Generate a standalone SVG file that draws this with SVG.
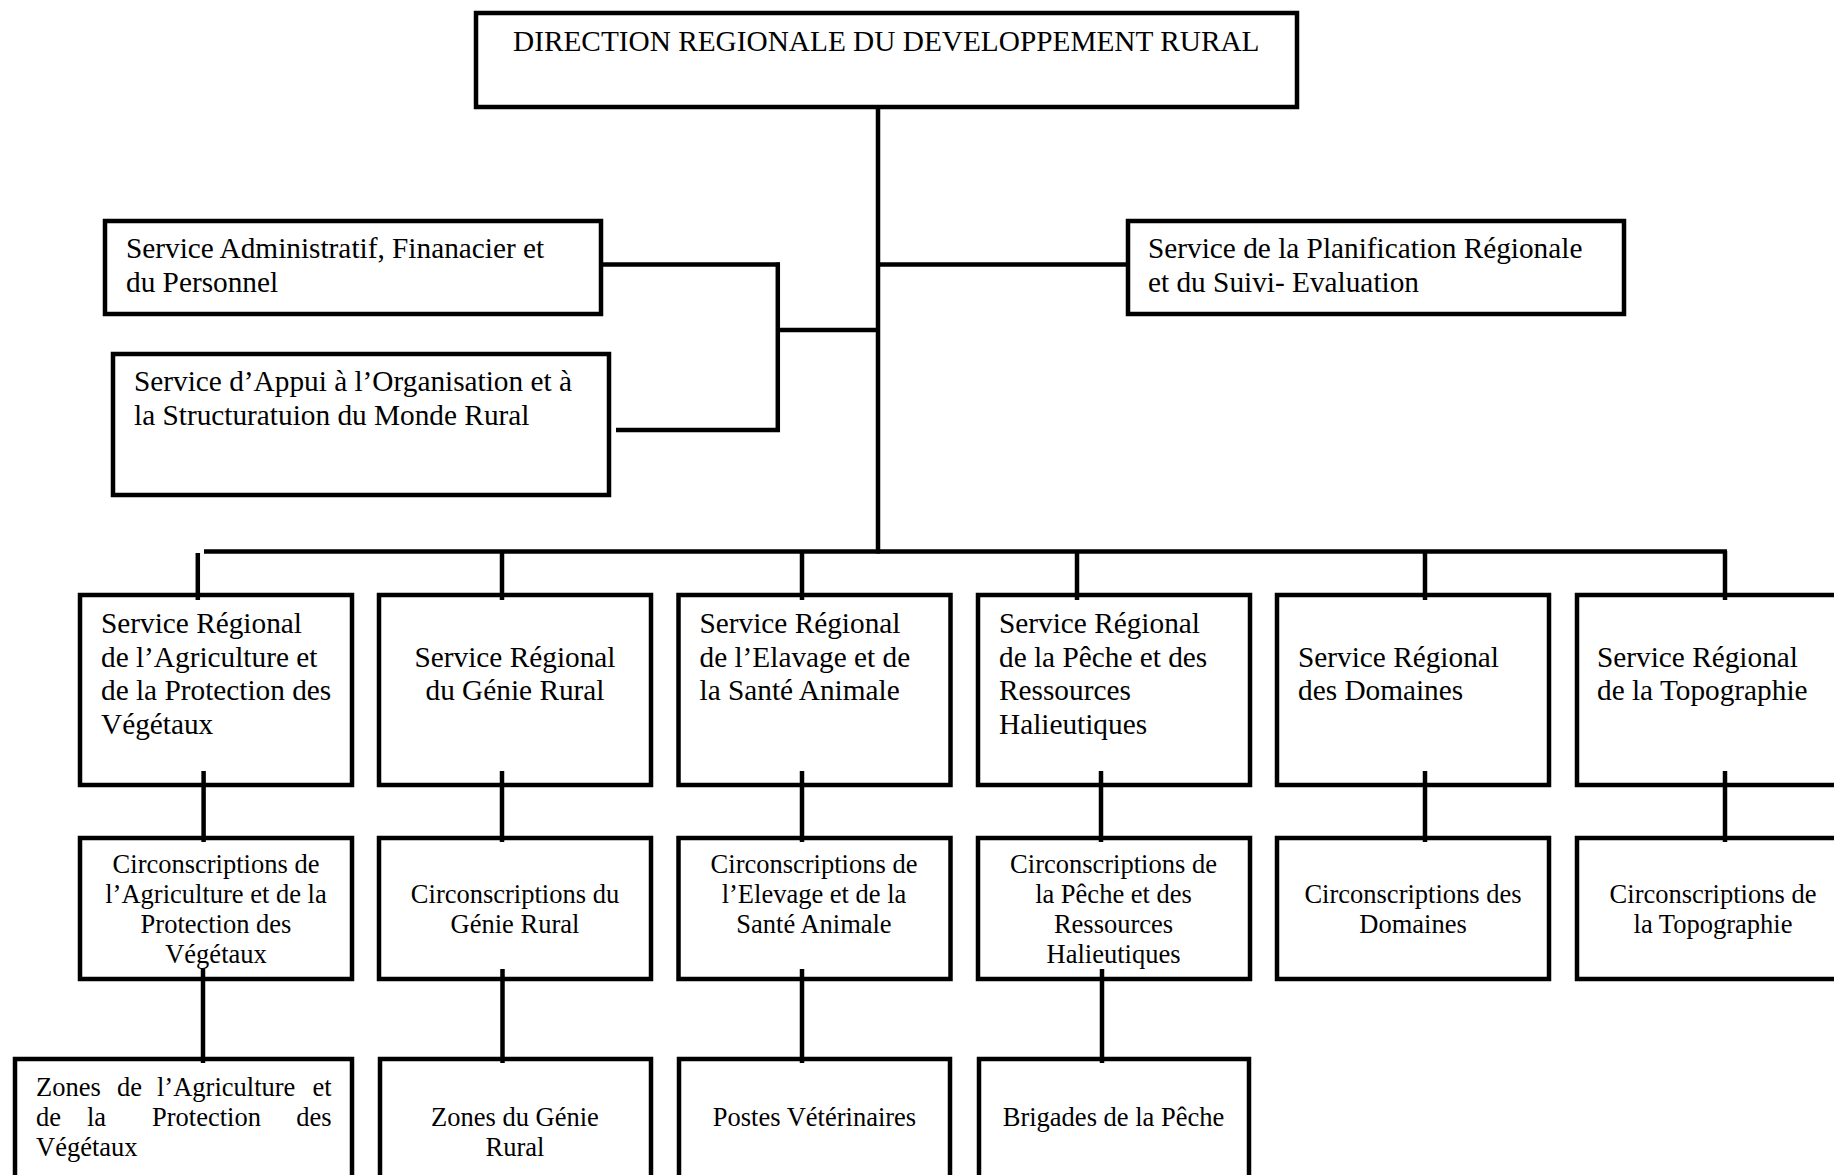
<svg xmlns="http://www.w3.org/2000/svg" width="1834" height="1175" viewBox="0 0 1834 1175">
<style>
rect.box{fill:#fff;stroke:#000;stroke-width:4.5}
.c line{stroke:#000;stroke-width:4.5;stroke-linecap:butt}
text{font-family:"Liberation Serif","Times New Roman",serif;fill:#000}
.big{font-size:29.3px}
.sm{font-size:26.5px}
.mid{text-anchor:middle}
.end{text-anchor:end}
</style>
<rect width="1834" height="1175" fill="#fff"/>
<g id="connectors" class="c">
<line x1="878" y1="107" x2="878" y2="553.5"/>
<line x1="878" y1="264.5" x2="1126" y2="264.5"/>
<line x1="603" y1="264.5" x2="780" y2="264.5"/>
<line x1="777.8" y1="262.5" x2="777.8" y2="432"/>
<line x1="616" y1="430" x2="780" y2="430"/>
<line x1="777.8" y1="330" x2="878" y2="330"/>
<line x1="204" y1="551.5" x2="1727" y2="551.5"/>
<line x1="197.8" y1="553" x2="197.8" y2="600"/>
<line x1="502" y1="551" x2="502" y2="600"/>
<line x1="802" y1="551" x2="802" y2="600"/>
<line x1="1077" y1="551" x2="1077" y2="600"/>
<line x1="1425" y1="551" x2="1425" y2="600"/>
<line x1="1725" y1="551" x2="1725" y2="600"/>
<line x1="203.6" y1="771" x2="203.6" y2="842"/>
<line x1="502" y1="771" x2="502" y2="842"/>
<line x1="802" y1="771" x2="802" y2="842"/>
<line x1="1101" y1="771" x2="1101" y2="842"/>
<line x1="1425" y1="771" x2="1425" y2="842"/>
<line x1="1725" y1="771" x2="1725" y2="842"/>
<line x1="203" y1="969" x2="203" y2="1063"/>
<line x1="502.5" y1="969" x2="502.5" y2="1063"/>
<line x1="802" y1="969" x2="802" y2="1063"/>
<line x1="1102" y1="969" x2="1102" y2="1063"/>
</g>
<g id="direction">
<rect class="box" x="476" y="13" width="821" height="94" style="fill:none"/>
<text class="big" x="513" y="51">DIRECTION REGIONALE DU DEVELOPPEMENT RURAL</text>
</g>
<g id="admin">
<rect class="box" x="105" y="221" width="496" height="93"/>
<text class="big" x="126" y="258">Service Administratif, Finanacier et</text>
<text class="big" x="126" y="292">du Personnel</text>
</g>
<g id="appui">
<rect class="box" x="113" y="354" width="496" height="141"/>
<text class="big" x="134" y="391">Service d’Appui à l’Organisation et à</text>
<text class="big" x="134" y="425">la Structuratuion du Monde Rural</text>
</g>
<g id="planif">
<rect class="box" x="1128" y="221" width="496" height="93"/>
<text class="big" x="1148" y="258">Service de la Planification Régionale</text>
<text class="big" x="1148" y="292">et du Suivi- Evaluation</text>
</g>
<g id="sr-agri">
<rect class="box" x="80" y="595" width="272" height="190" style="fill:none"/>
<text class="big" x="101" y="633">Service Régional</text>
<text class="big" x="101" y="667">de l’Agriculture et</text>
<text class="big" x="101" y="700">de la Protection des</text>
<text class="big" x="101" y="733.5">Végétaux</text>
</g>
<g id="sr-genie">
<rect class="box" x="379" y="595" width="272" height="190" style="fill:none"/>
<text class="big mid" x="515" y="667">Service Régional</text>
<text class="big mid" x="515" y="700">du Génie Rural</text>
</g>
<g id="sr-elevage">
<rect class="box" x="678.5" y="595" width="272" height="190" style="fill:none"/>
<text class="big" x="699.5" y="633">Service Régional</text>
<text class="big" x="699.5" y="667">de l’Elavage et de</text>
<text class="big" x="699.5" y="700">la Santé Animale</text>
</g>
<g id="sr-peche">
<rect class="box" x="978" y="595" width="272" height="190" style="fill:none"/>
<text class="big" x="999" y="633">Service Régional</text>
<text class="big" x="999" y="667">de la Pêche et des</text>
<text class="big" x="999" y="700">Ressources</text>
<text class="big" x="999" y="733.5">Halieutiques</text>
</g>
<g id="sr-domaines">
<rect class="box" x="1277" y="595" width="272" height="190" style="fill:none"/>
<text class="big" x="1298" y="667">Service Régional</text>
<text class="big" x="1298" y="700">des Domaines</text>
</g>
<g id="sr-topo">
<rect class="box" x="1577" y="595" width="272" height="190" style="fill:none"/>
<text class="big" x="1597" y="667">Service Régional</text>
<text class="big" x="1597" y="700">de la Topographie</text>
</g>
<g id="c-agri">
<rect class="box" x="80" y="838" width="272" height="141" style="fill:none"/>
<text class="sm mid" x="216" y="873">Circonscriptions de</text>
<text class="sm mid" x="216" y="903">l’Agriculture et de la</text>
<text class="sm mid" x="216" y="933">Protection des</text>
<text class="sm mid" x="216" y="963">Végétaux</text>
</g>
<g id="c-genie">
<rect class="box" x="379" y="838" width="272" height="141" style="fill:none"/>
<text class="sm mid" x="515" y="903">Circonscriptions du</text>
<text class="sm mid" x="515" y="933">Génie Rural</text>
</g>
<g id="c-elevage">
<rect class="box" x="678.5" y="838" width="272" height="141" style="fill:none"/>
<text class="sm mid" x="814" y="873">Circonscriptions de</text>
<text class="sm mid" x="814" y="903">l’Elevage et de la</text>
<text class="sm mid" x="814" y="933">Santé Animale</text>
</g>
<g id="c-peche">
<rect class="box" x="978" y="838" width="272" height="141" style="fill:none"/>
<text class="sm mid" x="1113.5" y="873">Circonscriptions de</text>
<text class="sm mid" x="1113.5" y="903">la Pêche et des</text>
<text class="sm mid" x="1113.5" y="933">Ressources</text>
<text class="sm mid" x="1113.5" y="963">Halieutiques</text>
</g>
<g id="c-domaines">
<rect class="box" x="1277" y="838" width="272" height="141" style="fill:none"/>
<text class="sm mid" x="1413" y="903">Circonscriptions des</text>
<text class="sm mid" x="1413" y="933">Domaines</text>
</g>
<g id="c-topo">
<rect class="box" x="1577" y="838" width="272" height="141" style="fill:none"/>
<text class="sm mid" x="1713" y="903">Circonscriptions de</text>
<text class="sm mid" x="1713" y="933">la Topographie</text>
</g>
<g id="z-agri">
<rect class="box" x="15" y="1059" width="337" height="160" style="fill:none"/>
<text class="sm" y="1095.5"><tspan x="36">Zones</tspan><tspan x="117">de</tspan><tspan x="157">l’Agriculture</tspan><tspan x="331.7" text-anchor="end">et</tspan></text>
<text class="sm" y="1125.5"><tspan x="36">de</tspan><tspan x="87">la</tspan><tspan x="152">Protection</tspan><tspan x="331.7" text-anchor="end">des</tspan></text>
<text class="sm" x="36" y="1155.5">Végétaux</text>
</g>
<g id="z-genie">
<rect class="box" x="380" y="1059" width="271" height="160" style="fill:none"/>
<text class="sm mid" x="515" y="1125.5">Zones du Génie</text>
<text class="sm mid" x="515" y="1155.5">Rural</text>
</g>
<g id="postes">
<rect class="box" x="679" y="1059" width="271" height="160" style="fill:none"/>
<text class="sm mid" x="814.5" y="1126">Postes Vétérinaires</text>
</g>
<g id="brigades">
<rect class="box" x="979" y="1059" width="270" height="160" style="fill:none"/>
<text class="sm mid" x="1113.5" y="1126">Brigades de la Pêche</text>
</g>
</svg>
